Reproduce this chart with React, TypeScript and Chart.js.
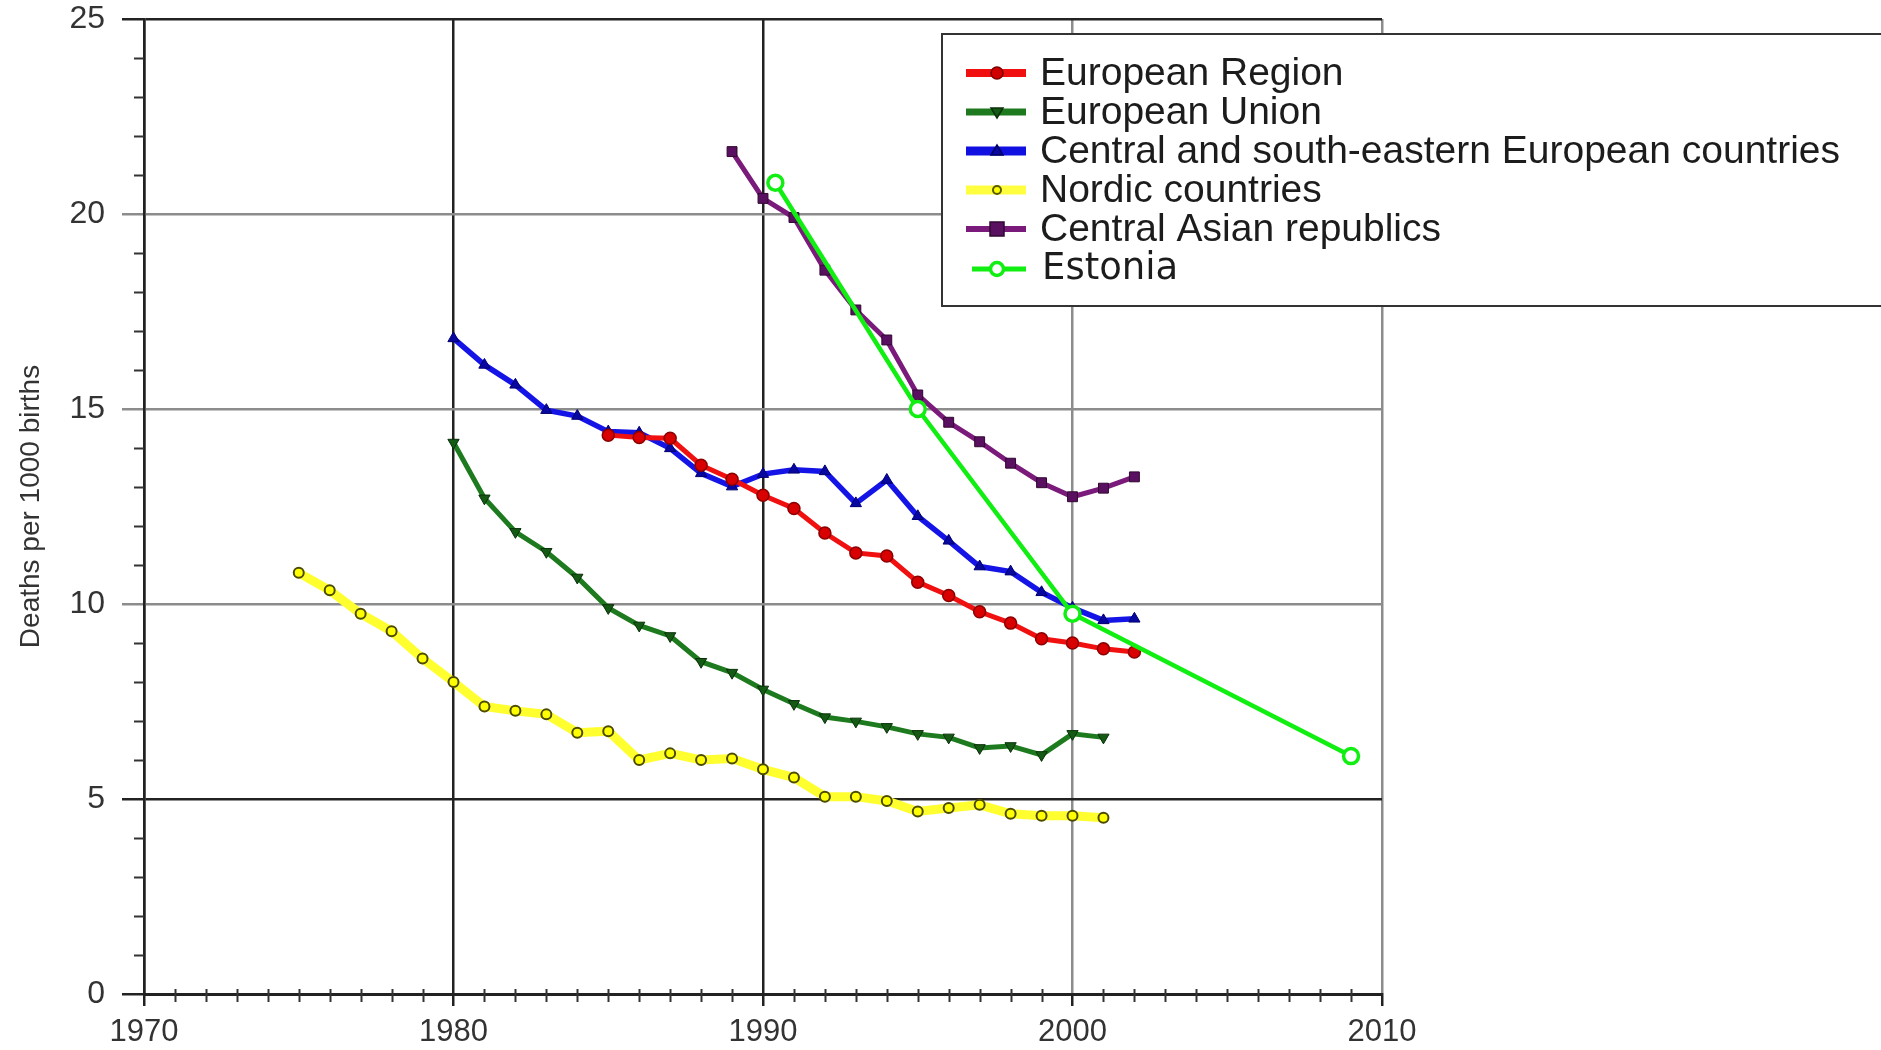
import React, { useEffect, useRef } from "react";
import { Chart, registerables } from "chart.js";

Chart.register(...registerables);

// ---------- data ----------
const europeanRegionYears = [1985, 1986, 1987, 1988, 1989, 1990, 1991, 1992, 1993, 1994, 1995, 1996, 1997, 1998, 1999, 2000, 2001, 2002];
const europeanRegionValues = [14.33, 14.27, 14.25, 13.56, 13.2, 12.79, 12.45, 11.82, 11.31, 11.23, 10.56, 10.22, 9.8, 9.51, 9.11, 9.0, 8.85, 8.77];

const europeanUnionYears = [1980, 1981, 1982, 1983, 1984, 1985, 1986, 1987, 1988, 1989, 1990, 1991, 1992, 1993, 1994, 1995, 1996, 1997, 1998, 1999, 2000, 2001];
const europeanUnionValues = [14.14, 12.71, 11.85, 11.34, 10.68, 9.9, 9.45, 9.18, 8.52, 8.24, 7.81, 7.44, 7.1, 6.99, 6.85, 6.67, 6.58, 6.31, 6.36, 6.13, 6.67, 6.58];

const cseeYears = [1980, 1981, 1982, 1983, 1984, 1985, 1986, 1987, 1988, 1989, 1990, 1991, 1992, 1993, 1994, 1995, 1996, 1997, 1998, 1999, 2000, 2001, 2002];
const cseeValues = [16.81, 16.13, 15.62, 14.97, 14.82, 14.42, 14.39, 13.99, 13.35, 13.01, 13.33, 13.44, 13.4, 12.58, 13.18, 12.25, 11.62, 10.96, 10.83, 10.3, 9.9, 9.58, 9.62];

const nordicYears = [1975, 1976, 1977, 1978, 1979, 1980, 1981, 1982, 1983, 1984, 1985, 1986, 1987, 1988, 1989, 1990, 1991, 1992, 1993, 1994, 1995, 1996, 1997, 1998, 1999, 2000, 2001];
const nordicValues = [10.8, 10.35, 9.75, 9.3, 8.6, 8.0, 7.37, 7.26, 7.17, 6.7, 6.74, 6.0, 6.17, 6.0, 6.04, 5.76, 5.55, 5.06, 5.06, 4.95, 4.68, 4.77, 4.85, 4.62, 4.57, 4.57, 4.52];

const centralAsiaYears = [1989, 1990, 1991, 1992, 1993, 1994, 1995, 1996, 1997, 1998, 1999, 2000, 2001, 2002];
const centralAsiaValues = [21.6, 20.4, 19.91, 18.56, 17.54, 16.77, 15.36, 14.66, 14.16, 13.61, 13.11, 12.75, 12.97, 13.26];

const estoniaYears = [1990.4, 1995, 2000, 2009];
const estoniaValues = [20.8, 15.0, 9.75, 6.1];

const xTickYears = [1970, 1980, 1990, 2000, 2010];
const yTickValues = [0, 5, 10, 15, 20, 25];
const darkXLines = [1970, 1980, 1990];
const darkYLines = [0, 5, 25];

const yAxisTitle = "Deaths per 1000 births";

const toPoints = (xs: number[], ys: number[]) => xs.map((x, i) => ({ x, y: ys[i] }));

const FONT = '"Liberation Sans", Arial, sans-serif';

type LegendSpec = { style: string; color: string; fill: string; stroke: string; lineWidth: number };

const legendSpecs: LegendSpec[] = [
  { style: "circle", color: "#f01010", fill: "#d00000", stroke: "#7a0000", lineWidth: 8 },
  { style: "triDown", color: "#1e7a1e", fill: "#145a14", stroke: "#0a300a", lineWidth: 7 },
  { style: "triUp", color: "#1010e0", fill: "#0808a0", stroke: "#000060", lineWidth: 9 },
  { style: "small", color: "#ffff40", fill: "#ffff00", stroke: "#5a5a00", lineWidth: 9 },
  { style: "square", color: "#7a1a7a", fill: "#5a1060", stroke: "#300830", lineWidth: 6 },
  { style: "hollow", color: "#11ee11", fill: "#ffffff", stroke: "#11ee11", lineWidth: 5 },
];

const minorTicksPlugin = {
  id: "minorTicks",
  afterDraw(chart: any) {
    const ctx = chart.ctx;
    const xs = chart.scales.x;
    const ys = chart.scales.y;
    const area = chart.chartArea;
    ctx.save();
    ctx.strokeStyle = "#333";
    ctx.lineWidth = 2;
    for (let v = Math.ceil(ys.min); v <= ys.max; v++) {
      if (v % 5 === 0) continue;
      const py = Math.round(ys.getPixelForValue(v)) + 0.5;
      ctx.beginPath();
      ctx.moveTo(area.left - 10, py);
      ctx.lineTo(area.left, py);
      ctx.stroke();
    }
    for (let v = Math.ceil(xs.min); v <= xs.max; v++) {
      if (v % 10 === 0) continue;
      const px = Math.round(xs.getPixelForValue(v)) + 0.5;
      ctx.beginPath();
      ctx.moveTo(px, area.bottom - 5);
      ctx.lineTo(px, area.bottom + 8);
      ctx.stroke();
    }
    ctx.restore();
  },
};

const drawMarker = (ctx: CanvasRenderingContext2D, style: string, cx: number, cy: number, spec: LegendSpec) => {
  ctx.save();
  ctx.fillStyle = spec.fill;
  ctx.strokeStyle = spec.stroke;
  ctx.lineWidth = 1.5;
  ctx.beginPath();
  if (style === "circle") {
    ctx.arc(cx, cy, 6, 0, Math.PI * 2);
  } else if (style === "triDown") {
    ctx.moveTo(cx - 6, cy - 4);
    ctx.lineTo(cx + 6, cy - 4);
    ctx.lineTo(cx, cy + 6);
    ctx.closePath();
  } else if (style === "triUp") {
    ctx.moveTo(cx - 6, cy + 4);
    ctx.lineTo(cx + 6, cy + 4);
    ctx.lineTo(cx, cy - 6);
    ctx.closePath();
  } else if (style === "small") {
    ctx.lineWidth = 2;
    ctx.arc(cx, cy, 4, 0, Math.PI * 2);
  } else if (style === "square") {
    ctx.rect(cx - 7, cy - 7, 14, 14);
  } else if (style === "hollow") {
    ctx.lineWidth = 3.5;
    ctx.arc(cx, cy, 6.5, 0, Math.PI * 2);
  }
  ctx.fill();
  ctx.stroke();
  ctx.restore();
};

const legendPlugin = {
  id: "boxLegend",
  afterDraw(chart: any) {
    const ctx = chart.ctx as CanvasRenderingContext2D;
    const boxLeft = 942;
    const boxTop = 34;
    const boxBottom = 306;
    ctx.save();
    ctx.fillStyle = "#ffffff";
    ctx.fillRect(boxLeft, boxTop, chart.width - boxLeft + 20, boxBottom - boxTop);
    ctx.strokeStyle = "#333";
    ctx.lineWidth = 2;
    ctx.strokeRect(boxLeft, boxTop, chart.width - boxLeft + 20, boxBottom - boxTop);

    const datasets = chart.data.datasets;
    datasets.forEach((ds: any, i: number) => {
      const spec = legendSpecs[i];
      const cy = i < 5 ? 73 + i * 39 : 269;
      ctx.strokeStyle = spec.color;
      ctx.lineWidth = spec.lineWidth;
      ctx.beginPath();
      ctx.moveTo(i < 5 ? 966 : 972, cy);
      ctx.lineTo(1026, cy);
      ctx.stroke();
      drawMarker(ctx, spec.style, 997, cy, spec);
      ctx.fillStyle = "#1c1c1c";
      ctx.textBaseline = "middle";
      ctx.textAlign = "left";
      if (i < 5) {
        ctx.font = `39px ${FONT}`;
        ctx.fillText(ds.label, 1040, cy + 1);
      } else {
        ctx.font = `37px "DejaVu Sans", Verdana, sans-serif`;
        ctx.fillText(ds.label, 1042, cy);
      }
    });
    ctx.restore();
  },
};

export default function App() {
  const canvasRef = useRef<HTMLCanvasElement | null>(null);

  useEffect(() => {
    if (!canvasRef.current) return;
    const gridColor = (v: number, dark: number[], grey: string) =>
      dark.includes(v) ? "#222222" : grey;

    const chart = new Chart(canvasRef.current, {
      type: "line",
      data: {
        datasets: [
          {
            label: "European Region",
            data: toPoints(europeanRegionYears, europeanRegionValues),
            borderColor: "#f01010",
            backgroundColor: "#d80000",
            pointBorderColor: "#8a0000",
            pointStyle: "circle",
            pointRadius: 6,
            pointBorderWidth: 1.5,
            borderWidth: 5,
            tension: 0,
            order: 1,
          },
          {
            label: "European Union",
            data: toPoints(europeanUnionYears, europeanUnionValues),
            borderColor: "#1e7a1e",
            backgroundColor: "#145a14",
            pointBorderColor: "#0a300a",
            pointStyle: "triangle",
            rotation: 180,
            pointRadius: 6.5,
            pointBorderWidth: 1,
            borderWidth: 5,
            tension: 0,
            order: 3,
          },
          {
            label: "Central and south-eastern European countries",
            data: toPoints(cseeYears, cseeValues),
            borderColor: "#1414e6",
            backgroundColor: "#0808a0",
            pointBorderColor: "#000070",
            pointStyle: "triangle",
            pointRadius: 6.5,
            pointBorderWidth: 1,
            borderWidth: 5.5,
            tension: 0,
            order: 2,
          },
          {
            label: "Nordic countries",
            data: toPoints(nordicYears, nordicValues),
            borderColor: "#ffff30",
            backgroundColor: "#ffff00",
            pointBorderColor: "#4a4a00",
            pointStyle: "circle",
            pointRadius: 5,
            pointBorderWidth: 2,
            borderWidth: 9,
            tension: 0,
            order: 5,
          },
          {
            label: "Central Asian republics",
            data: toPoints(centralAsiaYears, centralAsiaValues),
            borderColor: "#7a1a7a",
            backgroundColor: "#5a1060",
            pointBorderColor: "#300830",
            pointStyle: "rect",
            pointRadius: 7,
            pointBorderWidth: 1,
            borderWidth: 5,
            tension: 0,
            order: 4,
          },
          {
            label: "Estonia",
            data: toPoints(estoniaYears, estoniaValues),
            borderColor: "#11ee11",
            backgroundColor: "#ffffff",
            pointBorderColor: "#11ee11",
            pointStyle: "circle",
            pointRadius: 7.5,
            pointBorderWidth: 3.5,
            borderWidth: 4.5,
            tension: 0,
            order: 0,
          },
        ],
      },
      options: {
        responsive: false,
        animation: false,
        events: [],
        layout: { padding: { left: 0, right: 499, top: 19, bottom: 0 } },
        plugins: {
          legend: { display: false },
          tooltip: { enabled: false },
        },
        scales: {
          x: {
            type: "linear",
            min: xTickYears[0],
            max: xTickYears[xTickYears.length - 1],
            afterBuildTicks: (scale: any) => {
              scale.ticks = xTickYears.map((v) => ({ value: v }));
            },
            ticks: {
              autoSkip: false,
              maxRotation: 0,
              padding: 8,
              color: "#333",
              font: { size: 31, family: FONT },
              callback: (v: any) => String(v),
            },
            grid: {
              color: (c: any) => gridColor(c.tick?.value, darkXLines, "#8c8c8c"),
              tickColor: "#222",
              lineWidth: 2.5,
              tickLength: 12,
              drawTicks: true,
            },
            border: { color: "#222", width: 3 },
            afterFit: (scale: any) => {
              scale.height = 56;
              scale.paddingLeft = 0;
              scale.paddingRight = 0;
            },
          },
          y: {
            type: "linear",
            min: yTickValues[0],
            max: yTickValues[yTickValues.length - 1],
            afterBuildTicks: (scale: any) => {
              scale.ticks = yTickValues.map((v) => ({ value: v }));
            },
            ticks: {
              padding: 17,
              color: "#333",
              font: { size: 32, family: FONT },
              callback: (v: any) => String(v),
            },
            grid: {
              color: (c: any) => gridColor(c.tick?.value, darkYLines, "#8c8c8c"),
              tickColor: (c: any) => gridColor(c.tick?.value, darkYLines, "#8c8c8c"),
              lineWidth: 2.5,
              tickLength: 22,
              drawTicks: true,
            },
            border: { color: "#222", width: 2.5 },
            title: {
              display: true,
              text: yAxisTitle,
              color: "#333",
              font: { size: 28, family: FONT },
              padding: { top: 14, bottom: 0 },
            },
            afterFit: (scale: any) => {
              scale.width = 144;
              scale.paddingTop = 0;
              scale.paddingBottom = 0;
            },
          },
        },
      } as any,
      plugins: [minorTicksPlugin, legendPlugin],
    });
    return () => chart.destroy();
  }, []);

  return (
    <div style={{ position: "absolute", left: 0, top: 0, width: 1881, height: 1050, background: "#fff" }}>
      <canvas ref={canvasRef} width={1881} height={1050} />
    </div>
  );
}
